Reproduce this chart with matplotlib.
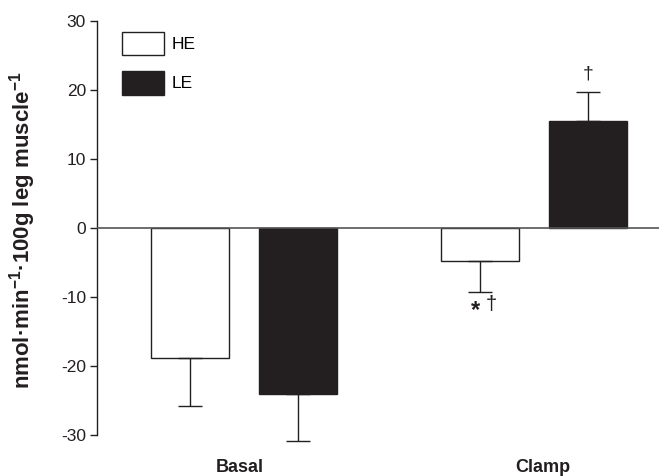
import matplotlib
matplotlib.use("Agg")
import matplotlib.pyplot as plt
from matplotlib.patches import Patch
import numpy as np

plt.rcParams['font.family'] = ['Liberation Sans', 'DejaVu Sans']
plt.rcParams['axes.unicode_minus'] = False
plt.rcParams['mathtext.fontset'] = 'custom'
plt.rcParams['mathtext.rm'] = 'Liberation Sans'
plt.rcParams['mathtext.bf'] = 'Liberation Sans:bold'

categories = ["Basal", "Clamp"]
groups = ["HE", "LE"]
he_values = [-18.9, -4.8]
he_errors = [6.9, 4.5]
le_values = [-24.1, 15.5]
le_errors = [6.8, 4.2]
y_ticks = [-30, -20, -10, 0, 10, 20, 30]
ylabel = r"nmol·min$^{\mathbf{-1}}$·100g leg muscle$^{\mathbf{-1}}$"

W, H = 660, 476
fig = plt.figure(figsize=(W / 100, H / 100), dpi=100)
ax = fig.add_axes([97 / W, 1 - 435 / H, (659 - 97) / W, (435 - 21) / H])

dark = '#231f20'
x = np.arange(len(categories))
width = 0.268
off = 0.186

ax.bar(x - off, he_values, width, color='white', edgecolor=dark, linewidth=1.0, zorder=2)
ax.bar(x + off, le_values, width, color=dark, edgecolor=dark, linewidth=1.0, zorder=2)

# one-sided error bars (away from zero)
for xs, vals, errs in [(x - off, he_values, he_errors), (x + off, le_values, le_errors)]:
    for xi, v, e in zip(xs, vals, errs):
        yerr = [[e if v < 0 else 0], [e if v > 0 else 0]]
        eb = ax.errorbar([xi], [v], yerr=yerr, fmt='none', ecolor=dark, elinewidth=1.0,
                         capsize=8.5, capthick=1.0, zorder=3)
        for art in list(eb.lines[1]) + list(eb.lines[2]):
            art.set_clip_on(False)

ax.axhline(0, color='#555555', linewidth=1.2, zorder=4)

ax.set_ylim(-30, 30)
ax.set_xlim(-0.505, 1.43)
ax.set_yticks(y_ticks)
ax.set_yticklabels([str(t) for t in y_ticks], fontsize=12.5, color=dark)
ax.tick_params(axis='y', direction='out', length=5, width=1.0, color=dark, pad=3)
ax.set_xticks([])
for s in ['top', 'right', 'bottom']:
    ax.spines[s].set_visible(False)
ax.spines['left'].set_color(dark)
ax.spines['left'].set_linewidth(1.0)

fig.text(23 / W, 1 - 230 / H, ylabel, rotation=90, ha='center', va='center',
         fontsize=16, fontweight='bold', color=dark)

fig.text(240 / W, 1 - 467 / H, categories[0], ha='center', va='center', fontsize=13, fontweight='bold', color=dark)
fig.text(543 / W, 1 - 467 / H, categories[1], ha='center', va='center', fontsize=13, fontweight='bold', color=dark)

# significance markers
ax.annotate("†", xy=(x[1] + off, le_values[1] + le_errors[1]), xytext=(0, 7),
            textcoords='offset points', ha='center', va='bottom', fontsize=14, color=dark)
ax.annotate("*", xy=(x[1] - off, he_values[1] - he_errors[1]), xytext=(-3, -5),
            textcoords='offset points', ha='center', va='top', fontsize=17, fontweight='bold', color=dark)
ax.annotate("†", xy=(x[1] - off, he_values[1] - he_errors[1]), xytext=(8, -2),
            textcoords='offset points', ha='center', va='top', fontsize=14.5, color=dark)

handles = [Patch(facecolor='white', edgecolor=dark, linewidth=1.0),
           Patch(facecolor=dark, edgecolor=dark, linewidth=1.0)]
ax.legend(handles, groups, loc='upper left', bbox_to_anchor=(122 / W, 1 - 32 / H),
          bbox_transform=fig.transFigure, frameon=False, fontsize=12.5,
          handlelength=2.4, handleheight=1.7, handletextpad=0.45, labelspacing=0.9,
          borderpad=0, borderaxespad=0)

fig.savefig("out.png", dpi=100)
